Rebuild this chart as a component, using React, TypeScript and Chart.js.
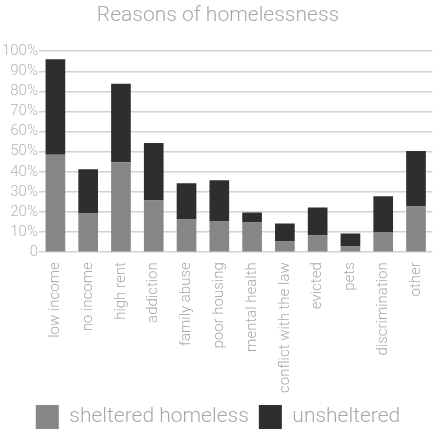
import React, { useEffect, useRef } from "react";
import { Chart, registerables } from "chart.js";

Chart.register(...registerables);

const categories = [
  "low income",
  "no income",
  "high rent",
  "addiction",
  "family abuse",
  "poor housing",
  "mental health",
  "conflict with the law",
  "evicted",
  "pets",
  "discrimination",
  "other",
];
const sheltered = [48.5, 19.3, 44.8, 25.8, 16.3, 15.3, 14.8, 5.3, 8.3, 2.8, 9.8, 22.8];
const unsheltered = [47.5, 22, 39, 28.5, 18, 20.5, 5, 9, 14, 6.5, 18, 27.5];
const yTicks = [0, 10, 20, 30, 40, 50, 60, 70, 80, 90, 100];

const FONT = "Roboto";

export default function App() {
  const ref = useRef<HTMLCanvasElement | null>(null);
  useEffect(() => {
    document.body.style.margin = "0";
    const ctx = ref.current!.getContext("2d")!;
    const chart = new Chart(ctx, {
      type: "bar",
      data: {
        labels: categories,
        datasets: [
          {
            label: "sheltered homeless",
            data: sheltered,
            backgroundColor: "#868686",
            barPercentage: 0.6,
            categoryPercentage: 1,
          },
          {
            label: "unsheltered",
            data: unsheltered,
            backgroundColor: "#2e2e2e",
            barPercentage: 0.6,
            categoryPercentage: 1,
          },
        ],
      },
      options: {
        animation: false,
        responsive: false,
        maintainAspectRatio: false,
        layout: { padding: { left: 0, right: 0, top: 3, bottom: 0 } },
        plugins: {
          title: {
            display: true,
            text: "Reasons of homelessness",
            color: "#a8a8a8",
            font: { family: FONT, size: 21, weight: "300" as any },
            padding: { top: 0, bottom: 23 },
          },
          legend: {
            position: "bottom",
            labels: {
              boxWidth: 23,
              boxHeight: 24,
              color: "#a8a8a8",
              font: { family: FONT, size: 21, weight: "300" as any },
              padding: 10,
            },
          },
          tooltip: { enabled: false },
        },
        scales: {
          x: {
            stacked: true,
            grid: { display: false },
            border: { display: false },
            ticks: {
              minRotation: 90,
              maxRotation: 90,
              autoSkip: false,
              color: "#a8a8a8",
              padding: 2,
              font: { family: FONT, size: 15, weight: "300" as any },
            },
          },
          y: {
            stacked: true,
            min: 0,
            max: 100,
            afterFit: (axis: any) => {
              axis.width = 39;
            },
            afterBuildTicks: (axis: any) => {
              axis.ticks = yTicks.map((v) => ({ value: v }));
            },
            grid: { color: "#d2d2d2", lineWidth: 1.5, drawTicks: false },
            border: { display: false },
            ticks: {
              autoSkip: false,
              color: "#b4b4b4",
              padding: 1,
              font: { family: FONT, size: 15, weight: "300" as any },
              callback: (v: any) => (Number(v) === 0 ? "0" : v + "%"),
            },
          },
        },
      },
    });
    return () => chart.destroy();
  }, []);
  return (
    <div style={{ position: "fixed", left: 0, top: 0, width: 436, height: 439 }}>
      <canvas ref={ref} width={436} height={439} style={{ width: 436, height: 439 }} />
    </div>
  );
}
